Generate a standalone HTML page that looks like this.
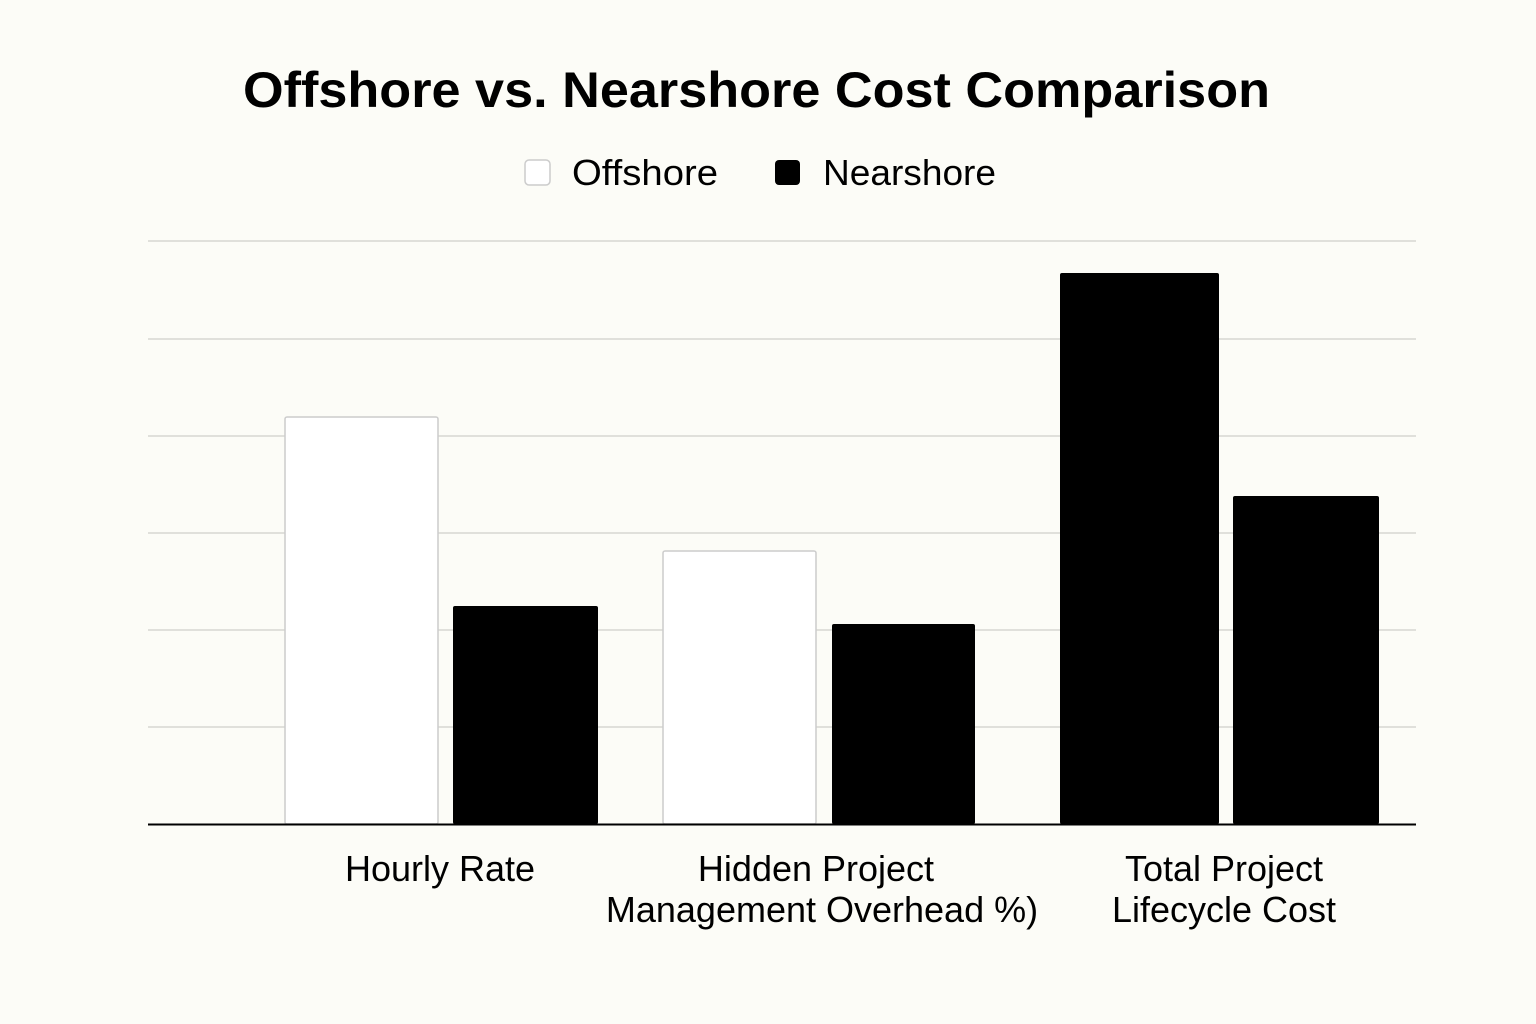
<!DOCTYPE html>
<html><head><meta charset="utf-8"><style>
html,body{margin:0;padding:0;background:#fcfcf7;}
svg{display:block;}
text{font-family:"Liberation Sans","DejaVu Sans",sans-serif;fill:#000;}
</style></head><body>
<svg width="1536" height="1024" viewBox="0 0 1536 1024">
<rect width="1536" height="1024" fill="#fcfcf7"/>
<text x="243" y="107" font-size="50" font-weight="bold" textLength="1027" lengthAdjust="spacingAndGlyphs">Offshore vs. Nearshore Cost Comparison</text>
<rect x="525" y="160" width="25" height="25" rx="4" fill="#fff" stroke="#ccc" stroke-width="1.5"/>
<text x="572" y="185" font-size="36" textLength="146" lengthAdjust="spacingAndGlyphs">Offshore</text>
<rect x="775" y="160" width="25" height="25" rx="4" fill="#000"/>
<text x="823" y="185" font-size="36" textLength="173" lengthAdjust="spacingAndGlyphs">Nearshore</text>
<g stroke="#d6d6d2" stroke-width="1.5">
<line x1="148" y1="241" x2="1416" y2="241"/>
<line x1="148" y1="339" x2="1416" y2="339"/>
<line x1="148" y1="436" x2="1416" y2="436"/>
<line x1="148" y1="533" x2="1416" y2="533"/>
<line x1="148" y1="630" x2="1416" y2="630"/>
<line x1="148" y1="727" x2="1416" y2="727"/>
</g>
<rect x="285" y="417" width="153" height="407" rx="2" fill="#fff" stroke="#ccc" stroke-width="1.5"/>
<rect x="453" y="606" width="145" height="218" rx="2" fill="#000"/>
<rect x="663" y="551" width="153" height="273" rx="2" fill="#fff" stroke="#ccc" stroke-width="1.5"/>
<rect x="832" y="624" width="143" height="200" rx="2" fill="#000"/>
<rect x="1060" y="273" width="159" height="551" rx="2" fill="#000"/>
<rect x="1233" y="496" width="146" height="328" rx="2" fill="#000"/>
<line x1="148" y1="824.5" x2="1416" y2="824.5" stroke="#000" stroke-width="2"/>
<g font-size="36" text-anchor="middle">
<text x="440" y="881">Hourly Rate</text>
<text x="816" y="881">Hidden Project</text>
<text x="822" y="922">Management Overhead %)</text>
<text x="1224" y="881">Total Project</text>
<text x="1224" y="922">Lifecycle Cost</text>
</g>
</svg>
</body></html>
